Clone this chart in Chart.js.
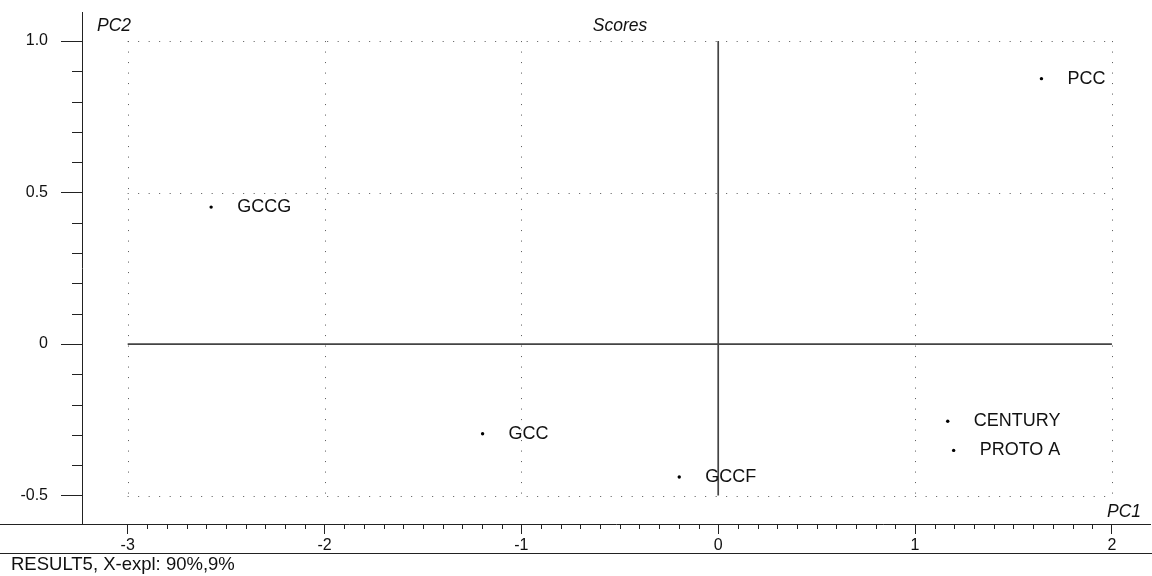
<!DOCTYPE html>
<html>
<head>
<meta charset="utf-8">
<script src="https://cdn.jsdelivr.net/npm/chart.js@4/dist/chart.umd.min.js"></script>
<style>
  body { margin: 0; background: #fff; }
  canvas { display: block; }
</style>
</head>
<body>
<canvas id="scores" width="1152" height="576"></canvas>
<script>
const names = ['PCC', 'GCCG', 'GCC', 'GCCF', 'CENTURY', 'PROTO A'];
const pc1 = [1.642, -2.576, -1.197, -0.198, 1.166, 1.196];
const pc2 = [0.876, 0.452, -0.296, -0.439, -0.255, -0.351];

const xTicks = [-3, -2, -1, 0, 1, 2];
const yTicks = [-0.5, 0, 0.5, 1.0];
const footer = 'RESULT5, X-expl: 90%,9%';

const FONT = '"Liberation Sans", Arial, sans-serif';

const points = pc1.map((v, i) => ({ x: v, y: pc2[i] }));

// dotted grid, zero lines, minor ticks, extra frame lines
const frame = {
  id: 'frame',
  beforeDatasetsDraw(chart) {
    const { ctx, chartArea, scales: { x, y } } = chart;
    const x0 = x.getPixelForValue(xTicks[0]);
    const x1 = x.getPixelForValue(xTicks[xTicks.length - 1]);
    const y0 = y.getPixelForValue(yTicks[yTicks.length - 1]);
    const y1 = y.getPixelForValue(yTicks[0]);

    ctx.save();
    ctx.strokeStyle = '#555';
    ctx.lineWidth = 1;
    ctx.setLineDash([1, 9.5]);
    xTicks.filter((v) => v !== 0).forEach((v) => {
      const px = Math.round(x.getPixelForValue(v)) + 0.5;
      ctx.beginPath();
      ctx.moveTo(px, y0);
      ctx.lineTo(px, y1);
      ctx.stroke();
    });
    yTicks.filter((v) => v !== 0).forEach((v) => {
      const py = Math.round(y.getPixelForValue(v)) + 0.5;
      ctx.beginPath();
      ctx.moveTo(x0, py);
      ctx.lineTo(x1, py);
      ctx.stroke();
    });
    ctx.setLineDash([]);

    // zero lines
    ctx.strokeStyle = '#444';
    ctx.lineWidth = 1.7;
    const zx = x.getPixelForValue(0);
    const zy = y.getPixelForValue(0);
    ctx.beginPath();
    ctx.moveTo(x0, zy);
    ctx.lineTo(x1, zy);
    ctx.moveTo(zx, y0);
    ctx.lineTo(zx, y1);
    ctx.stroke();

    // minor ticks
    ctx.strokeStyle = '#222';
    ctx.lineWidth = 1;
    ctx.beginPath();
    for (let i = xTicks[0] * 10; i <= xTicks[xTicks.length - 1] * 10; i++) {
      if (i % 10 === 0) continue;
      const px = Math.round(x.getPixelForValue(i / 10)) + 0.5;
      ctx.moveTo(px, chartArea.bottom);
      ctx.lineTo(px, chartArea.bottom + 5);
    }
    for (let i = yTicks[0] * 10; i <= yTicks[yTicks.length - 1] * 10; i++) {
      if (i % 5 === 0) continue;
      const py = Math.round(y.getPixelForValue(i / 10)) + 0.5;
      ctx.moveTo(chartArea.left, py);
      ctx.lineTo(chartArea.left - 10, py);
    }
    // x axis carried to the left edge, and the footer rule
    ctx.moveTo(0, chartArea.bottom + 0.5);
    ctx.lineTo(chartArea.left, chartArea.bottom + 0.5);
    ctx.moveTo(0, 553.5);
    ctx.lineTo(chart.width, 553.5);
    ctx.stroke();
    ctx.restore();
  },
  afterDatasetsDraw(chart) {
    const { ctx, chartArea } = chart;
    const meta = chart.getDatasetMeta(0);
    ctx.save();
    ctx.fillStyle = '#111';
    ctx.textBaseline = 'middle';
    ctx.textAlign = 'left';
    ctx.font = '18px ' + FONT;
    meta.data.forEach((pt, i) => {
      ctx.fillText(names[i], pt.x + 26, pt.y);
    });

    ctx.font = 'italic 17.5px ' + FONT;
    ctx.fillText('PC2', chartArea.left + 15, 26);
    ctx.textAlign = 'center';
    ctx.fillText('Scores', 620, 26);
    ctx.textAlign = 'right';
    ctx.fillText('PC1', chart.width - 11, 512);

    ctx.textAlign = 'left';
    ctx.font = '18.5px ' + FONT;
    ctx.fillText(footer, 11, 565);
    ctx.restore();
  },
};

new Chart(document.getElementById('scores'), {
  type: 'scatter',
  data: {
    datasets: [
      {
        label: 'Scores',
        data: points,
        backgroundColor: '#000',
        borderColor: '#000',
        pointRadius: 1.7,
        pointHoverRadius: 1.7,
        borderWidth: 0,
      },
    ],
  },
  options: {
    responsive: false,
    animation: false,
    layout: { padding: { top: 12, left: 0, right: 0, bottom: 0 } },
    plugins: {
      legend: { display: false },
      tooltip: { enabled: false },
    },
    scales: {
      x: {
        type: 'linear',
        min: -3.232,
        max: 2.195,
        afterFit: (s) => {
          s.height = 52;
          s.paddingLeft = 0;
          s.paddingRight = 0;
        },
        grid: { drawOnChartArea: false, drawTicks: true, tickLength: 10, color: '#222' },
        border: { display: true, color: '#222', width: 1 },
        ticks: {
          stepSize: 1,
          includeBounds: false,
          autoSkip: false,
          maxRotation: 0,
          padding: 2,
          color: '#111',
          font: { family: FONT, size: 16 },
          callback: (v) => String(v),
        },
      },
      y: {
        type: 'linear',
        min: -0.594,
        max: 1.096,
        afterFit: (s) => {
          s.width = 82;
          s.paddingTop = 0;
          s.paddingBottom = 0;
        },
        grid: { drawOnChartArea: false, drawTicks: true, tickLength: 21, color: '#222' },
        border: { display: true, color: '#222', width: 1 },
        ticks: {
          stepSize: 0.5,
          includeBounds: false,
          autoSkip: false,
          padding: 13,
          color: '#111',
          font: { family: FONT, size: 16 },
          callback: (v) => (v === 0 ? '0' : v.toFixed(1)),
        },
      },
    },
  },
  plugins: [frame],
});
</script>
</body>
</html>
